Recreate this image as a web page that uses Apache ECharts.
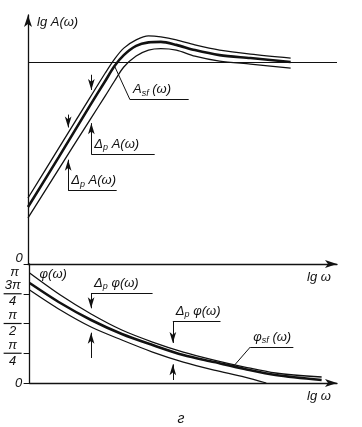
<!DOCTYPE html>
<html><head><meta charset="utf-8">
<script src="https://cdn.jsdelivr.net/npm/echarts@6/dist/echarts.min.js"></script>
<style>html,body{margin:0;padding:0;background:#fff}#c{width:362px;height:427px}</style>
</head><body><div id="c"></div>
<script>
// ---------- amplitude panel: lg A(ω) versus lg ω ----------
const ampX       = [0, 1, 2, 2.5, 2.8, 3.1, 3.5, 3.9, 4.3, 4.8, 5.4, 6.2, 7.2, 8.5];
const ampUpper   = [2.65, 4.66, 6.67, 7.67, 8.23, 8.67, 9.00, 9.16, 9.12, 9.00, 8.80, 8.59, 8.43, 8.27];
const ampNominal = [2.29, 4.30, 6.35, 7.35, 7.95, 8.39, 8.76, 8.90, 8.92, 8.80, 8.59, 8.39, 8.27, 8.11];
const ampLower   = [1.85, 3.82, 5.78, 6.75, 7.35, 7.91, 8.35, 8.59, 8.65, 8.59, 8.35, 8.15, 8.03, 7.87];
const ampRefLevel = 8.1;
const ampAxisMin = 0, ampAxisMax = 10;
const ampTickLabels = ['0'];

// ---------- phase panel: φ(ω) versus lg ω ----------
const phX       = [0, 1, 2, 3, 4, 5, 6, 7, 8, 9.5];
const phUpper   = [2.904, 2.323, 1.822, 1.399, 1.082, 0.818, 0.607, 0.422, 0.264, 0.158];
const phNominal = [2.640, 2.112, 1.663, 1.294, 1.003, 0.739, 0.554, 0.370, 0.211, 0.079];
const phLowerX  = [0, 1, 2, 3, 4, 5, 6, 7, 7.7];
const phLower   = [2.455, 1.927, 1.478, 1.135, 0.818, 0.554, 0.343, 0.158, 0];
const phaseTickLabels = ['0', 'π/4', 'π/2', '3π/4', 'π'];
const lgWMin = 0, lgWMax = 10;

// annotation anchors (lg ω positions of the Δ arrows and leaders)
const dpAX   = [1.3, 2.05];
const dpPhiX = [2.0, 4.66];

const F = 'Liberation Sans';
const ink = '#111';
const pairs = (xs, ys) => xs.map((x, i) => [x, ys[i]]);
function at(xs, ys, x) {
  for (let i = 0; i < xs.length - 1; i++) {
    if (x >= xs[i] && x <= xs[i + 1]) {
      const t = (x - xs[i]) / (xs[i + 1] - xs[i]);
      return ys[i] + t * (ys[i + 1] - ys[i]);
    }
  }
  return ys[ys.length - 1];
}
const txtRich = {
  t: {fontSize: 13, fontStyle: 'italic', fontFamily: F, color: ink, lineHeight: 16},
  s: {fontSize: 9, fontStyle: 'italic', fontFamily: F, color: ink, padding: [7, 0, 0, 0]}
};
function seg(a, b, arrow, label) {
  const s = {coord: a, symbol: 'none'};
  s.label = label ? {show: true, formatter: label, position: 'insideStartTop', distance: [3, 2], rich: txtRich} : {show: false};
  return [s, {coord: b, symbol: arrow ? 'arrow' : 'none', symbolSize: [5, 11]}];
}
const dpA = '{t|Δ}{s|p}{t| A(ω)}';
const dpPhi = '{t|Δ}{s|p}{t| φ(ω)}';
const aSf = '{t|A}{s|sf}{t| (ω)}';
const phiSf = '{t|φ}{s|sf}{t| (ω)}';

// amplitude annotations
const ampMarks = [];
{
  const x0 = dpAX[0];
  ampMarks.push(seg([x0, 6.0], [x0, at(ampX, ampUpper, x0) + 0.22], true));
  ampMarks.push(seg([x0, 2.95], [x0, at(ampX, ampLower, x0) - 0.22], true));
  ampMarks.push(seg([x0, 2.95], [2.87, 2.95], false, dpA));
  const x1 = dpAX[1];
  ampMarks.push(seg([x1, 7.6], [x1, at(ampX, ampUpper, x1) + 0.22], true));
  ampMarks.push(seg([x1, 4.4], [x1, at(ampX, ampLower, x1) - 0.22], true));
  ampMarks.push(seg([x1, 4.4], [4.1, 4.4], false, dpA));
  ampMarks.push(seg([2.8, at(ampX, ampNominal, 2.8)], [3.3, 6.6], false));
  ampMarks.push(seg([3.3, 6.6], [5.2, 6.6], false, aSf));
  ampMarks.push({yAxis: ampRefLevel, symbol: 'none', label: {show: false}});
}
// phase annotations
const phMarks = [];
{
  const x0 = dpPhiX[0];
  phMarks.push(seg([x0, 2.376], [x0, at(phX, phUpper, x0) + 0.15], true));
  phMarks.push(seg([x0, 0.66], [x0, at(phLowerX, phLower, x0) - 0.15], true));
  phMarks.push(seg([x0, 2.376], [4.0, 2.376], false, dpPhi));
  const x1 = dpPhiX[1];
  phMarks.push(seg([x1, 1.637], [x1, at(phX, phUpper, x1) + 0.15], true));
  phMarks.push(seg([x1, 0.079], [x1, at(phLowerX, phLower, x1) - 0.15], true));
  phMarks.push(seg([x1, 1.637], [6.21, 1.637], false, dpPhi));
  phMarks.push(seg([6.63, at(phX, phNominal, 6.63)], [7.18, 0.95], false));
  phMarks.push(seg([7.18, 0.95], [8.58, 0.95], false, phiSf));
}

const axisLineStyle = {color: ink, width: 1.3};
const nameStyle = {fontFamily: F, fontStyle: 'italic', fontSize: 13, color: ink};
function xAx(gi) {
  return {
    gridIndex: gi, type: 'value', min: lgWMin, max: lgWMax,
    axisLine: {show: true, onZero: false, symbol: ['none', 'arrow'], symbolSize: [6, 12], lineStyle: axisLineStyle},
    axisTick: {show: false}, axisLabel: {show: false}, splitLine: {show: false},
    name: 'lg ω', nameLocation: 'end', nameGap: -30,
    nameTextStyle: Object.assign({align: 'left', verticalAlign: 'top', padding: [7, 0, 0, 0]}, nameStyle)
  };
}
const q = Math.PI / 4;
const phaseVals = phaseTickLabels.map((_, i) => i * q);
function phaseFmt(v) {
  const s = phaseTickLabels[Math.round(v / q)];
  if (s === '0') return '{z|0}';
  if (s === 'π') return '{p|π}';
  const [n, d] = s.split('/');
  return '{n|' + n + '}\n{b| }\n{d|' + d + '}';
}
const lblBase = {fontFamily: F, fontStyle: 'italic', fontSize: 13, color: ink, lineHeight: 14};

function line(gi, xs, ys, w) {
  return {
    type: 'line', xAxisIndex: gi, yAxisIndex: gi, data: pairs(xs, ys),
    smooth: 0.3, showSymbol: false, silent: true,
    lineStyle: {color: ink, width: w}
  };
}
const sAmpNom = line(0, ampX, ampNominal, 2.6);
sAmpNom.markLine = {silent: true, symbol: 'none', lineStyle: {color: ink, width: 1, type: 'solid'}, label: {show: false}, data: ampMarks};
const sPhNom = line(1, phX, phNominal, 2.6);
sPhNom.markLine = {silent: true, symbol: 'none', lineStyle: {color: ink, width: 1, type: 'solid'}, label: {show: false}, data: phMarks};

const option = {
  animation: false,
  backgroundColor: '#fff',
  title: {text: 'г', left: 'center', top: 407, textStyle: {fontFamily: F, fontStyle: 'italic', fontWeight: 'normal', fontSize: 14, color: ink}},
  grid: [
    {left: 28, right: 25, top: 15, height: 249},
    {left: 28, right: 25, top: 264, height: 119}
  ],
  xAxis: [xAx(0), xAx(1)],
  yAxis: [
    {
      gridIndex: 0, type: 'value', min: ampAxisMin, max: ampAxisMax,
      axisLine: {show: true, onZero: false, symbol: ['none', 'arrow'], symbolSize: [6, 12], lineStyle: axisLineStyle},
      axisTick: {show: false}, splitLine: {show: false},
      axisLabel: {customValues: [ampAxisMin], formatter: () => '{z|' + ampTickLabels[0] + '}', margin: 9, align: 'center',
        rich: {z: Object.assign({}, lblBase, {padding: [0, 0, 12, 0]})}},
      name: 'lg A(ω)', nameLocation: 'end', nameGap: -7,
      nameTextStyle: Object.assign({align: 'left', verticalAlign: 'middle', padding: [0, 0, 0, 9]}, nameStyle)
    },
    {
      gridIndex: 1, type: 'value', min: 0, max: Math.PI, interval: q,
      axisLine: {show: true, onZero: false, lineStyle: axisLineStyle},
      axisTick: {show: true, length: 6, lineStyle: {color: ink, width: 1}},
      splitLine: {show: false},
      axisLabel: {customValues: phaseVals, formatter: phaseFmt, margin: 17, align: 'center',
        rich: {
          n: Object.assign({}, lblBase), d: Object.assign({}, lblBase),
          b: {width: 18, height: 1.2, lineHeight: 2, fontSize: 1, backgroundColor: ink},
          z: Object.assign({}, lblBase, {padding: [0, 0, 0, 12]}),
          p: Object.assign({}, lblBase, {padding: [16, 0, 0, 4]})
        }},
      name: 'φ(ω)', nameLocation: 'end', nameGap: -10,
      nameTextStyle: Object.assign({align: 'left', verticalAlign: 'middle', padding: [0, 0, 0, 10]}, nameStyle)
    }
  ],
  series: [
    line(0, ampX, ampUpper, 1.3), sAmpNom, line(0, ampX, ampLower, 1.3),
    line(1, phX, phUpper, 1.3), sPhNom, line(1, phLowerX, phLower, 1.3)
  ]
};
const chart = echarts.init(document.getElementById('c'), null, {renderer: 'canvas'});
chart.setOption(option);
</script>
</body></html>
